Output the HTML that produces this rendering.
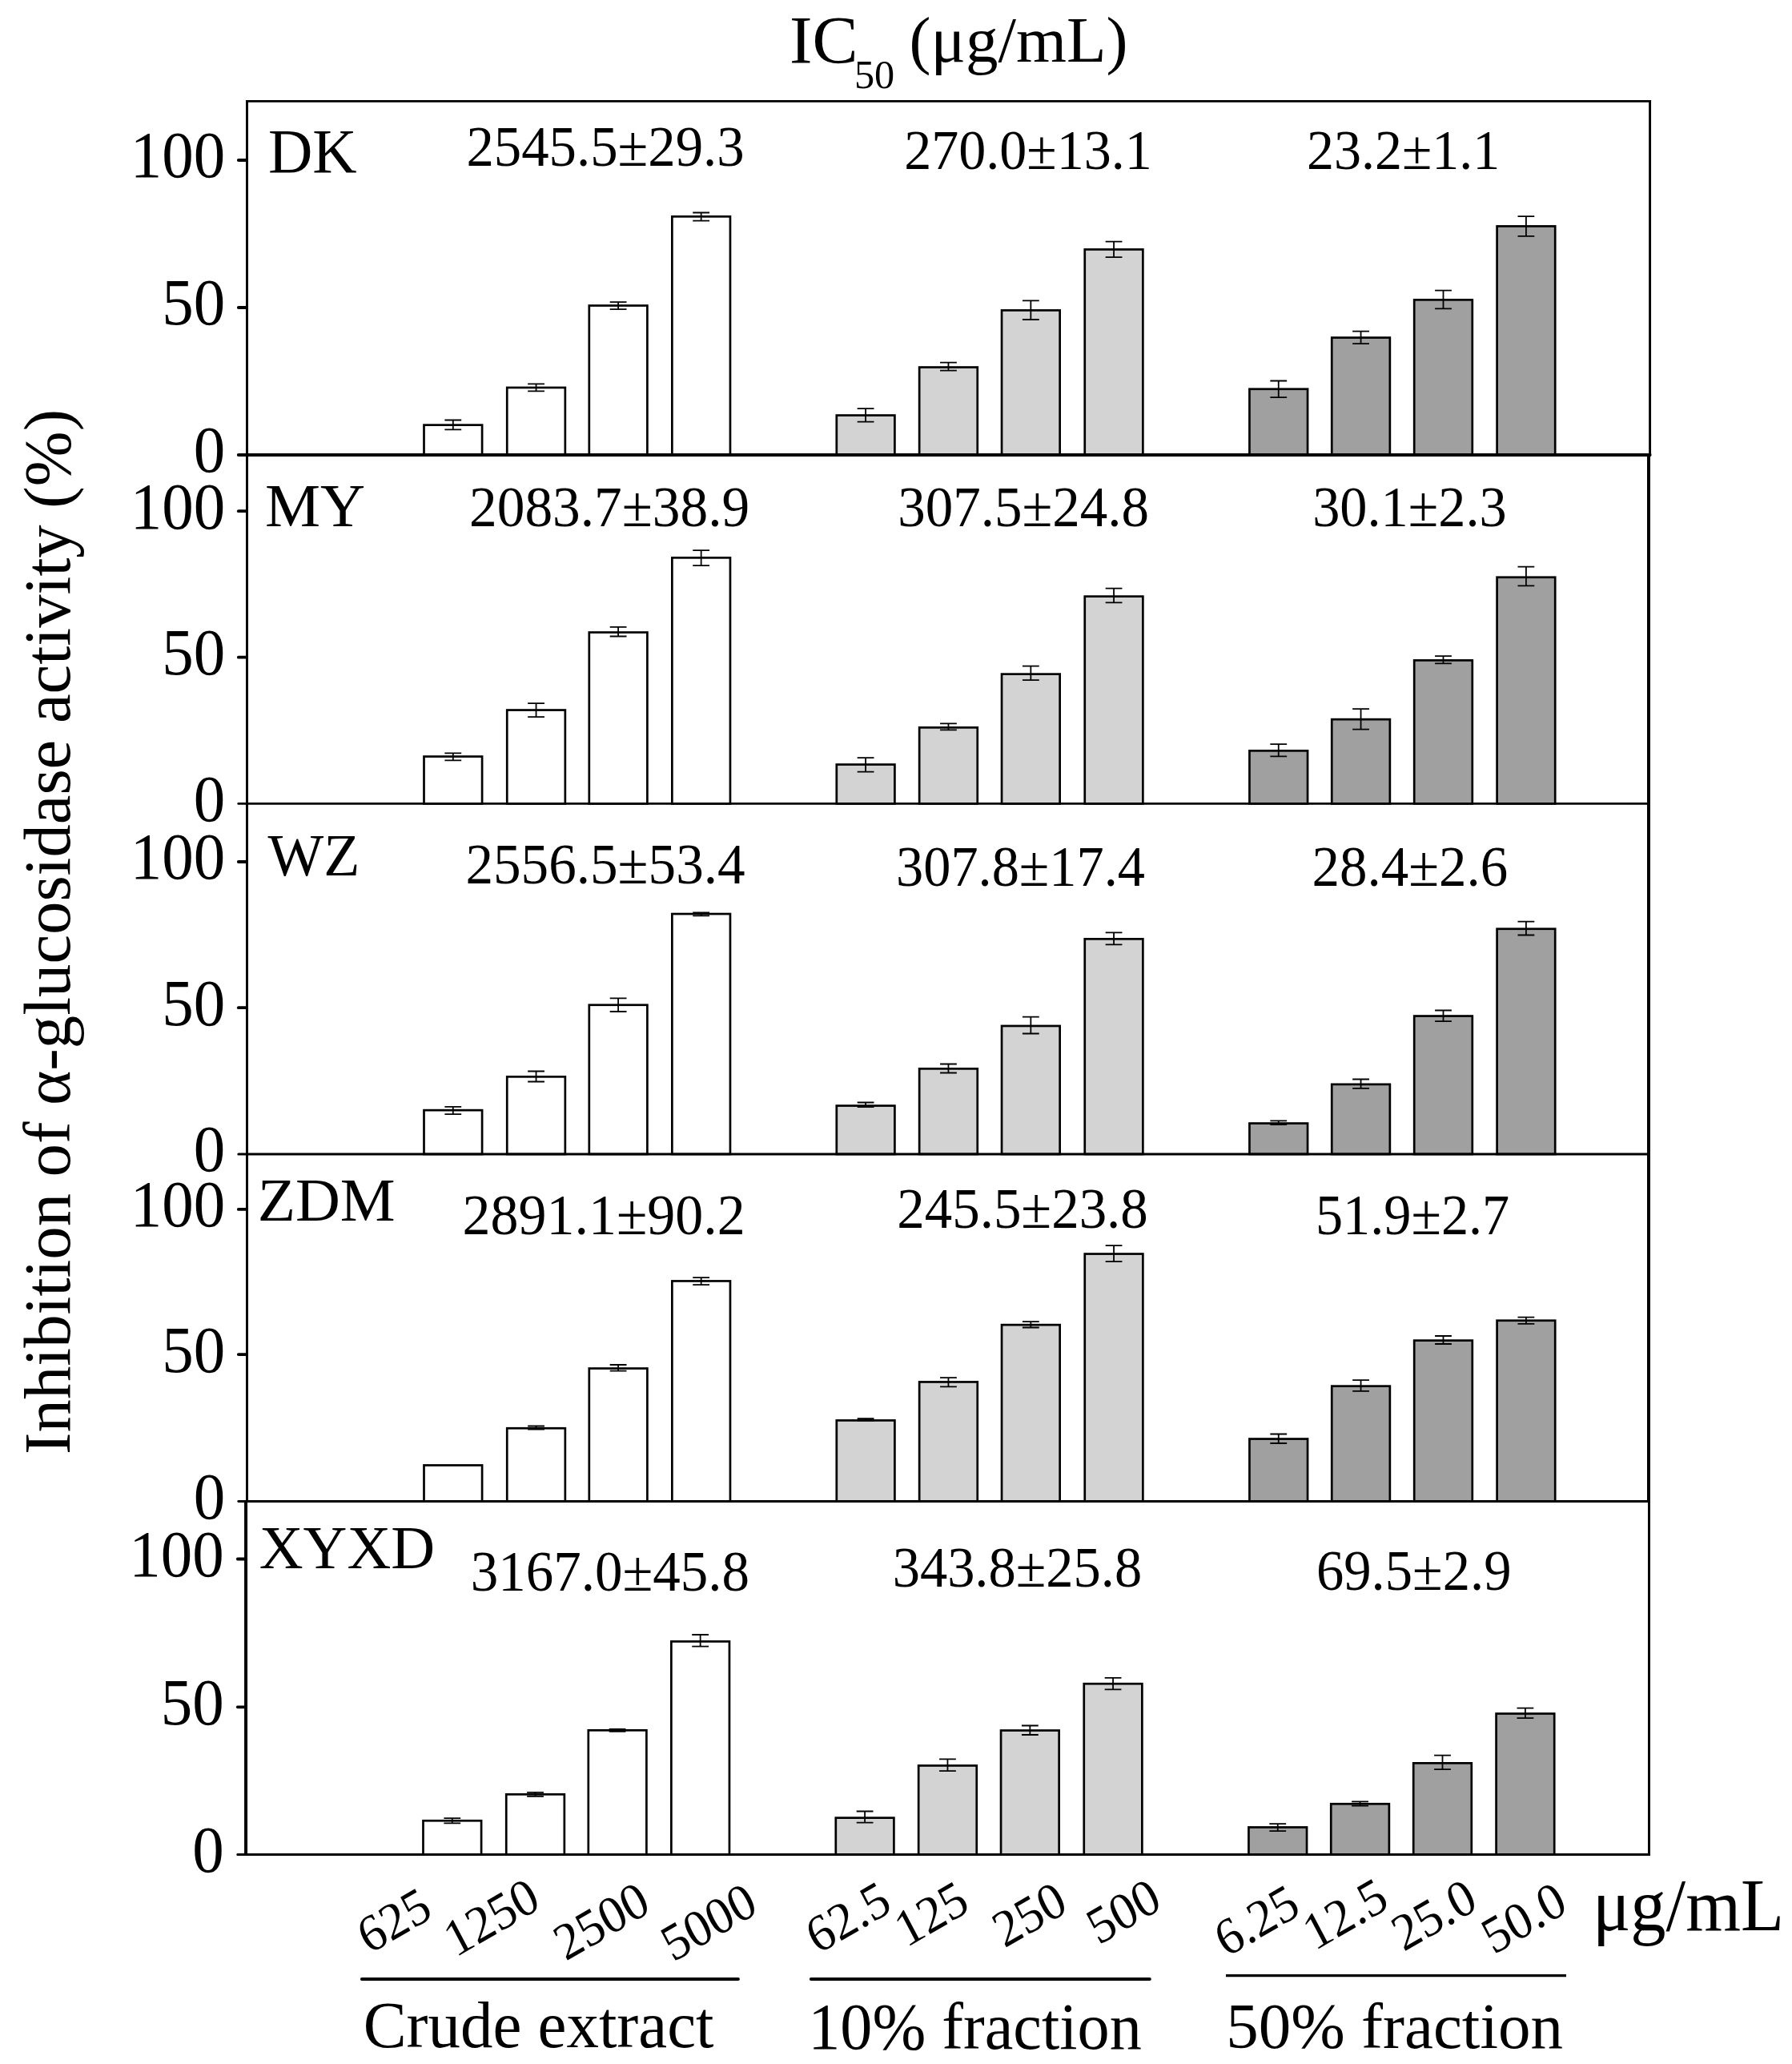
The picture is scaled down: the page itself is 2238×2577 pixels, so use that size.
<!DOCTYPE html>
<html lang="en"><head><meta charset="utf-8"><title>IC50 chart</title>
<style>html,body{margin:0;padding:0;background:#fff}svg{display:block}</style></head>
<body>
<svg width="2238" height="2577" viewBox="0 0 2238 2577" font-family="Liberation Serif, serif" fill="#000" style="font-kerning:none">
<rect width="2238" height="2577" fill="#fff"/>
<g stroke="#000" stroke-width="2.7">
<rect x="529.50" y="530.65" width="72.6" height="37.35" fill="#ffffff"/>
<rect x="633.25" y="483.95" width="72.6" height="84.05" fill="#ffffff"/>
<rect x="735.80" y="381.55" width="72.6" height="186.45" fill="#ffffff"/>
<rect x="839.35" y="270.35" width="72.6" height="297.65" fill="#ffffff"/>
<rect x="1044.80" y="518.55" width="72.6" height="49.45" fill="#d3d3d3"/>
<rect x="1148.15" y="458.55" width="72.6" height="109.45" fill="#d3d3d3"/>
<rect x="1251.05" y="387.45" width="72.6" height="180.55" fill="#d3d3d3"/>
<rect x="1354.75" y="311.45" width="72.6" height="256.55" fill="#d3d3d3"/>
<rect x="1560.45" y="485.75" width="72.6" height="82.25" fill="#a0a0a0"/>
<rect x="1663.25" y="421.55" width="72.6" height="146.45" fill="#a0a0a0"/>
<rect x="1766.20" y="374.35" width="72.6" height="193.65" fill="#a0a0a0"/>
<rect x="1869.60" y="282.45" width="72.6" height="285.55" fill="#a0a0a0"/>
</g>
<g stroke="#000" stroke-width="1.8" fill="none">
<path d="M555.40 524.50H576.20M555.40 536.40H576.20M565.80 524.50V536.40"/>
<path d="M659.15 479.40H679.95M659.15 488.30H679.95M669.55 479.40V488.30"/>
<path d="M761.70 377.20H782.50M761.70 386.20H782.50M772.10 377.20V386.20"/>
<path d="M865.25 265.50H886.05M865.25 275.60H886.05M875.65 265.50V275.60"/>
<path d="M1070.70 510.20H1091.50M1070.70 526.60H1091.50M1081.10 510.20V526.60"/>
<path d="M1174.05 452.70H1194.85M1174.05 462.70H1194.85M1184.45 452.70V462.70"/>
<path d="M1276.95 375.40H1297.75M1276.95 399.00H1297.75M1287.35 375.40V399.00"/>
<path d="M1380.65 301.70H1401.45M1380.65 321.20H1401.45M1391.05 301.70V321.20"/>
<path d="M1586.35 475.50H1607.15M1586.35 496.10H1607.15M1596.75 475.50V496.10"/>
<path d="M1689.15 413.70H1709.95M1689.15 429.10H1709.95M1699.55 413.70V429.10"/>
<path d="M1792.10 362.60H1812.90M1792.10 385.40H1812.90M1802.50 362.60V385.40"/>
<path d="M1895.50 270.20H1916.30M1895.50 294.80H1916.30M1905.90 270.20V294.80"/>
</g>
<g stroke="#000" stroke-width="2.7">
<rect x="529.50" y="944.55" width="72.6" height="58.85" fill="#ffffff"/>
<rect x="633.25" y="886.55" width="72.6" height="116.85" fill="#ffffff"/>
<rect x="735.80" y="789.55" width="72.6" height="213.85" fill="#ffffff"/>
<rect x="839.35" y="696.35" width="72.6" height="307.05" fill="#ffffff"/>
<rect x="1044.80" y="954.55" width="72.6" height="48.85" fill="#d3d3d3"/>
<rect x="1148.15" y="908.35" width="72.6" height="95.05" fill="#d3d3d3"/>
<rect x="1251.05" y="841.65" width="72.6" height="161.75" fill="#d3d3d3"/>
<rect x="1354.75" y="744.65" width="72.6" height="258.75" fill="#d3d3d3"/>
<rect x="1560.45" y="937.35" width="72.6" height="66.05" fill="#a0a0a0"/>
<rect x="1663.25" y="898.15" width="72.6" height="105.25" fill="#a0a0a0"/>
<rect x="1766.20" y="824.45" width="72.6" height="178.95" fill="#a0a0a0"/>
<rect x="1869.60" y="720.75" width="72.6" height="282.65" fill="#a0a0a0"/>
</g>
<g stroke="#000" stroke-width="1.8" fill="none">
<path d="M555.40 940.30H576.20M555.40 949.30H576.20M565.80 940.30V949.30"/>
<path d="M659.15 878.10H679.95M659.15 895.10H679.95M669.55 878.10V895.10"/>
<path d="M761.70 782.90H782.50M761.70 794.50H782.50M772.10 782.90V794.50"/>
<path d="M865.25 687.20H886.05M865.25 706.20H886.05M875.65 687.20V706.20"/>
<path d="M1070.70 946.20H1091.50M1070.70 963.60H1091.50M1081.10 946.20V963.60"/>
<path d="M1174.05 903.30H1194.85M1174.05 911.30H1194.85M1184.45 903.30V911.30"/>
<path d="M1276.95 831.70H1297.75M1276.95 849.10H1297.75M1287.35 831.70V849.10"/>
<path d="M1380.65 734.70H1401.45M1380.65 752.40H1401.45M1391.05 734.70V752.40"/>
<path d="M1586.35 929.20H1607.15M1586.35 944.40H1607.15M1596.75 929.20V944.40"/>
<path d="M1689.15 885.10H1709.95M1689.15 910.70H1709.95M1699.55 885.10V910.70"/>
<path d="M1792.10 819.10H1812.90M1792.10 828.30H1812.90M1802.50 819.10V828.30"/>
<path d="M1895.50 707.70H1916.30M1895.50 731.30H1916.30M1905.90 707.70V731.30"/>
</g>
<g stroke="#000" stroke-width="2.7">
<rect x="529.50" y="1386.15" width="72.6" height="54.85" fill="#ffffff"/>
<rect x="633.25" y="1344.35" width="72.6" height="96.65" fill="#ffffff"/>
<rect x="735.80" y="1254.75" width="72.6" height="186.25" fill="#ffffff"/>
<rect x="839.35" y="1141.05" width="72.6" height="299.95" fill="#ffffff"/>
<rect x="1044.80" y="1380.55" width="72.6" height="60.45" fill="#d3d3d3"/>
<rect x="1148.15" y="1334.35" width="72.6" height="106.65" fill="#d3d3d3"/>
<rect x="1251.05" y="1280.95" width="72.6" height="160.05" fill="#d3d3d3"/>
<rect x="1354.75" y="1172.35" width="72.6" height="268.65" fill="#d3d3d3"/>
<rect x="1560.45" y="1402.55" width="72.6" height="38.45" fill="#a0a0a0"/>
<rect x="1663.25" y="1353.85" width="72.6" height="87.15" fill="#a0a0a0"/>
<rect x="1766.20" y="1268.55" width="72.6" height="172.45" fill="#a0a0a0"/>
<rect x="1869.60" y="1159.75" width="72.6" height="281.25" fill="#a0a0a0"/>
</g>
<g stroke="#000" stroke-width="1.8" fill="none">
<path d="M555.40 1381.90H576.20M555.40 1391.10H576.20M565.80 1381.90V1391.10"/>
<path d="M659.15 1337.50H679.95M659.15 1350.50H679.95M669.55 1337.50V1350.50"/>
<path d="M761.70 1246.30H782.50M761.70 1263.00H782.50M772.10 1246.30V1263.00"/>
<path d="M865.25 1139.30H886.05M865.25 1143.40H886.05M875.65 1139.30V1143.40"/>
<path d="M1070.70 1376.50H1091.50M1070.70 1382.10H1091.50M1081.10 1376.50V1382.10"/>
<path d="M1174.05 1328.50H1194.85M1174.05 1339.50H1194.85M1184.45 1328.50V1339.50"/>
<path d="M1276.95 1269.70H1297.75M1276.95 1290.50H1297.75M1287.35 1269.70V1290.50"/>
<path d="M1380.65 1164.40H1401.45M1380.65 1179.30H1401.45M1391.05 1164.40V1179.30"/>
<path d="M1586.35 1399.30H1607.15M1586.35 1404.20H1607.15M1596.75 1399.30V1404.20"/>
<path d="M1689.15 1347.50H1709.95M1689.15 1358.80H1709.95M1699.55 1347.50V1358.80"/>
<path d="M1792.10 1261.50H1812.90M1792.10 1275.10H1812.90M1802.50 1261.50V1275.10"/>
<path d="M1895.50 1150.60H1916.30M1895.50 1167.50H1916.30M1905.90 1150.60V1167.50"/>
</g>
<g stroke="#000" stroke-width="2.7">
<rect x="529.50" y="1829.45" width="72.6" height="45.05" fill="#ffffff"/>
<rect x="633.25" y="1783.25" width="72.6" height="91.25" fill="#ffffff"/>
<rect x="735.80" y="1708.55" width="72.6" height="165.95" fill="#ffffff"/>
<rect x="839.35" y="1599.45" width="72.6" height="275.05" fill="#ffffff"/>
<rect x="1044.80" y="1773.45" width="72.6" height="101.05" fill="#d3d3d3"/>
<rect x="1148.15" y="1725.45" width="72.6" height="149.05" fill="#d3d3d3"/>
<rect x="1251.05" y="1654.15" width="72.6" height="220.35" fill="#d3d3d3"/>
<rect x="1354.75" y="1565.55" width="72.6" height="308.95" fill="#d3d3d3"/>
<rect x="1560.45" y="1796.55" width="72.6" height="77.95" fill="#a0a0a0"/>
<rect x="1663.25" y="1730.65" width="72.6" height="143.85" fill="#a0a0a0"/>
<rect x="1766.20" y="1673.65" width="72.6" height="200.85" fill="#a0a0a0"/>
<rect x="1869.60" y="1648.75" width="72.6" height="225.75" fill="#a0a0a0"/>
</g>
<g stroke="#000" stroke-width="1.8" fill="none">
<path d="M659.15 1780.50H679.95M659.15 1784.60H679.95M669.55 1780.50V1784.60"/>
<path d="M761.70 1704.00H782.50M761.70 1711.70H782.50M772.10 1704.00V1711.70"/>
<path d="M865.25 1595.10H886.05M865.25 1604.10H886.05M875.65 1595.10V1604.10"/>
<path d="M1070.70 1771.20H1091.50M1070.70 1773.50H1091.50M1081.10 1771.20V1773.50"/>
<path d="M1174.05 1720.10H1194.85M1174.05 1731.40H1194.85M1184.45 1720.10V1731.40"/>
<path d="M1276.95 1650.10H1297.75M1276.95 1657.50H1297.75M1287.35 1650.10V1657.50"/>
<path d="M1380.65 1555.10H1401.45M1380.65 1575.10H1401.45M1391.05 1555.10V1575.10"/>
<path d="M1586.35 1790.50H1607.15M1586.35 1802.00H1607.15M1596.75 1790.50V1802.00"/>
<path d="M1689.15 1723.20H1709.95M1689.15 1736.80H1709.95M1699.55 1723.20V1736.80"/>
<path d="M1792.10 1668.00H1812.90M1792.10 1678.00H1812.90M1802.50 1668.00V1678.00"/>
<path d="M1895.50 1644.70H1916.30M1895.50 1652.90H1916.30M1905.90 1644.70V1652.90"/>
</g>
<g stroke="#000" stroke-width="2.7">
<rect x="528.50" y="2273.25" width="72.6" height="42.25" fill="#ffffff"/>
<rect x="632.25" y="2240.35" width="72.6" height="75.15" fill="#ffffff"/>
<rect x="734.80" y="2160.35" width="72.6" height="155.15" fill="#ffffff"/>
<rect x="838.35" y="2049.45" width="72.6" height="266.05" fill="#ffffff"/>
<rect x="1043.80" y="2269.65" width="72.6" height="45.85" fill="#d3d3d3"/>
<rect x="1147.15" y="2204.45" width="72.6" height="111.05" fill="#d3d3d3"/>
<rect x="1250.05" y="2160.55" width="72.6" height="154.95" fill="#d3d3d3"/>
<rect x="1353.75" y="2102.25" width="72.6" height="213.25" fill="#d3d3d3"/>
<rect x="1559.45" y="2281.45" width="72.6" height="34.05" fill="#a0a0a0"/>
<rect x="1662.25" y="2252.25" width="72.6" height="63.25" fill="#a0a0a0"/>
<rect x="1765.20" y="2201.35" width="72.6" height="114.15" fill="#a0a0a0"/>
<rect x="1868.60" y="2139.55" width="72.6" height="175.95" fill="#a0a0a0"/>
</g>
<g stroke="#000" stroke-width="1.8" fill="none">
<path d="M554.40 2270.20H575.20M554.40 2276.40H575.20M564.80 2270.20V2276.40"/>
<path d="M658.15 2237.90H678.95M658.15 2242.80H678.95M668.55 2237.90V2242.80"/>
<path d="M760.70 2158.90H781.50M760.70 2161.90H781.50M771.10 2158.90V2161.90"/>
<path d="M864.25 2041.00H885.05M864.25 2055.60H885.05M874.65 2041.00V2055.60"/>
<path d="M1069.70 2261.50H1090.50M1069.70 2275.60H1090.50M1080.10 2261.50V2275.60"/>
<path d="M1173.05 2196.30H1193.85M1173.05 2211.20H1193.85M1183.45 2196.30V2211.20"/>
<path d="M1275.95 2154.50H1296.75M1275.95 2166.00H1296.75M1286.35 2154.50V2166.00"/>
<path d="M1379.65 2094.90H1400.45M1379.65 2109.30H1400.45M1390.05 2094.90V2109.30"/>
<path d="M1585.35 2277.20H1606.15M1585.35 2286.10H1606.15M1595.75 2277.20V2286.10"/>
<path d="M1688.15 2249.40H1708.95M1688.15 2254.60H1708.95M1698.55 2249.40V2254.60"/>
<path d="M1791.10 2191.70H1811.90M1791.10 2209.10H1811.90M1801.50 2191.70V2209.10"/>
<path d="M1894.50 2132.60H1915.30M1894.50 2145.20H1915.30M1904.90 2132.60V2145.20"/>
</g>
<g stroke="#000" fill="none" stroke-linecap="butt">
<path d="M308.50 125.00V569.50" stroke-width="3.0"/>
<path d="M2060.60 125.00V569.50" stroke-width="2.9"/>
<path d="M308.50 568.00V1004.90" stroke-width="3.0"/>
<path d="M2059.00 568.00V1004.90" stroke-width="4.0"/>
<path d="M308.50 1003.40V1442.50" stroke-width="3.0"/>
<path d="M2059.00 1003.40V1442.50" stroke-width="4.0"/>
<path d="M308.50 1441.00V1876.00" stroke-width="3.0"/>
<path d="M2059.00 1441.00V1876.00" stroke-width="4.0"/>
<path d="M307.05 1874.50V2317.00" stroke-width="4.0"/>
<path d="M2059.50 1874.50V2317.00" stroke-width="3.0"/>
<path d="M307.00 126.4H2062.05" stroke-width="2.8"/>
</g>
<g stroke="#000" fill="none" stroke-linecap="round">
<path d="M297.80 568.00H2060.60" stroke-width="4.0"/>
<path d="M297.80 200.00H307.80" stroke-width="3.8"/>
<path d="M297.80 384.00H307.80" stroke-width="3.8"/>
<path d="M297.80 1003.40H2059.00" stroke-width="2.9"/>
<path d="M297.80 638.20H307.80" stroke-width="3.8"/>
<path d="M297.80 820.70H307.80" stroke-width="3.8"/>
<path d="M297.80 1441.00H2059.00" stroke-width="3.0"/>
<path d="M297.80 1076.00H307.80" stroke-width="3.8"/>
<path d="M297.80 1258.20H307.80" stroke-width="3.8"/>
<path d="M297.80 1874.50H2059.00" stroke-width="2.9"/>
<path d="M297.80 1509.90H307.80" stroke-width="3.8"/>
<path d="M297.80 1691.10H307.80" stroke-width="3.8"/>
<path d="M296.80 2315.50H2059.50" stroke-width="3.0"/>
<path d="M296.80 1946.50H306.35" stroke-width="3.8"/>
<path d="M296.80 2131.30H306.35" stroke-width="3.8"/>
</g>
<text transform="translate(162.86 221.48) scale(1 1.0350)" font-size="79.00" text-anchor="start">100</text>
<text transform="translate(202.36 405.48) scale(1 1.0350)" font-size="79.00" text-anchor="start">50</text>
<text transform="translate(241.86 589.48) scale(1 1.0350)" font-size="79.00" text-anchor="start">0</text>
<text transform="translate(162.86 659.68) scale(1 1.0350)" font-size="79.00" text-anchor="start">100</text>
<text transform="translate(202.36 842.18) scale(1 1.0350)" font-size="79.00" text-anchor="start">50</text>
<text transform="translate(241.86 1024.88) scale(1 1.0350)" font-size="79.00" text-anchor="start">0</text>
<text transform="translate(162.86 1097.48) scale(1 1.0350)" font-size="79.00" text-anchor="start">100</text>
<text transform="translate(202.36 1279.68) scale(1 1.0350)" font-size="79.00" text-anchor="start">50</text>
<text transform="translate(241.86 1462.48) scale(1 1.0350)" font-size="79.00" text-anchor="start">0</text>
<text transform="translate(162.86 1531.38) scale(1 1.0350)" font-size="79.00" text-anchor="start">100</text>
<text transform="translate(202.36 1712.58) scale(1 1.0350)" font-size="79.00" text-anchor="start">50</text>
<text transform="translate(241.86 1895.98) scale(1 1.0350)" font-size="79.00" text-anchor="start">0</text>
<text transform="translate(161.36 1967.98) scale(1 1.0350)" font-size="79.00" text-anchor="start">100</text>
<text transform="translate(200.86 2152.78) scale(1 1.0350)" font-size="79.00" text-anchor="start">50</text>
<text transform="translate(240.36 2336.98) scale(1 1.0350)" font-size="79.00" text-anchor="start">0</text>
<text transform="translate(334.89 215.01) scale(1 1.0148)" font-size="76.73" text-anchor="start">DK</text>
<text transform="translate(331.07 656.60) scale(1 0.9834)" font-size="77.63" text-anchor="start">MY</text>
<text transform="translate(334.40 1093.08) scale(1 1.0094)" font-size="73.93" text-anchor="start">WZ</text>
<text transform="translate(321.72 1524.01) scale(1 0.9826)" font-size="77.39" text-anchor="start">ZDM</text>
<text transform="translate(323.69 1958.21) scale(1 0.9930)" font-size="75.97" text-anchor="start">XYXD</text>
<text transform="translate(582.48 207.43) scale(1 1.0400)" font-size="68.77" text-anchor="start">2545.5±29.3</text>
<text transform="translate(1129.21 210.74) scale(1 1.0400)" font-size="68.06" text-anchor="start">270.0±13.1</text>
<text transform="translate(1631.91 211.14) scale(1 1.0400)" font-size="67.99" text-anchor="start">23.2±1.1</text>
<text transform="translate(586.05 656.52) scale(1 1.0400)" font-size="69.37" text-anchor="start">2083.7±38.9</text>
<text transform="translate(1121.32 656.72) scale(1 1.0400)" font-size="68.98" text-anchor="start">307.5±24.8</text>
<text transform="translate(1639.15 656.73) scale(1 1.0400)" font-size="68.33" text-anchor="start">30.1±2.3</text>
<text transform="translate(581.46 1103.12) scale(1 1.0400)" font-size="69.16" text-anchor="start">2556.5±53.4</text>
<text transform="translate(1119.05 1106.13) scale(1 1.0400)" font-size="68.35" text-anchor="start">307.8±17.4</text>
<text transform="translate(1638.57 1106.12) scale(1 1.0400)" font-size="68.96" text-anchor="start">28.4±2.6</text>
<text transform="translate(577.53 1540.91) scale(1 1.0400)" font-size="69.96" text-anchor="start">2891.1±90.2</text>
<text transform="translate(1120.27 1532.52) scale(1 1.0400)" font-size="68.93" text-anchor="start">245.5±23.8</text>
<text transform="translate(1642.97 1541.43) scale(1 1.0400)" font-size="68.28" text-anchor="start">51.9±2.7</text>
<text transform="translate(587.72 1985.62) scale(1 1.0400)" font-size="69.00" text-anchor="start">3167.0±45.8</text>
<text transform="translate(1114.65 1981.43) scale(1 1.0400)" font-size="68.49" text-anchor="start">343.8±25.8</text>
<text transform="translate(1643.98 1985.03) scale(1 1.0400)" font-size="68.61" text-anchor="start">69.5±2.9</text>
<text x="985.93" y="78.54" font-size="85.52">IC<tspan x="1066.91" y="109.61" font-size="50.28">50</tspan><tspan x="1115.31" y="77.28" font-size="81.01"> (μg/mL)</tspan></text>
<text transform="translate(453.66 2556.08) scale(1 1.0118)" font-size="80.89" text-anchor="start">Crude extract</text>
<text transform="translate(1009.18 2557.78) scale(1 1.0179)" font-size="80.24" text-anchor="start">10% fraction</text>
<text x="1531.14" y="2556.79" font-size="81.05" text-anchor="start">50% fraction</text>
<text transform="translate(1988.92 2409.95) scale(1 1.0432)" font-size="88.52" text-anchor="start">μg/mL</text>
<g stroke="#000" stroke-width="4" stroke-linecap="round">
<path d="M451.9 2470.9H921.9"/>
<path d="M1012.9 2470.9H1435.8"/>
</g>
<path d="M1531 2466.6H1956" stroke="#000" stroke-width="3.1"/>
<text transform="translate(461.07 2440.18) scale(0.953 1) rotate(-29)" font-size="65.2">625</text>
<text transform="translate(569.10 2444.23) scale(0.953 1) rotate(-29)" font-size="65.2">1250</text>
<text transform="translate(706.58 2448.97) scale(0.953 1) rotate(-29)" font-size="65.2">2500</text>
<text transform="translate(840.46 2450.27) scale(0.953 1) rotate(-29)" font-size="65.2">5000</text>
<text transform="translate(1021.28 2440.18) scale(0.953 1) rotate(-29)" font-size="65.2">62.5</text>
<text transform="translate(1132.01 2431.96) scale(0.953 1) rotate(-29)" font-size="65.2">125</text>
<text transform="translate(1254.62 2432.87) scale(0.953 1) rotate(-29)" font-size="65.2">250</text>
<text transform="translate(1372.10 2428.92) scale(0.953 1) rotate(-29)" font-size="65.2">500</text>
<text transform="translate(1531.58 2444.23) scale(0.953 1) rotate(-29)" font-size="65.2">6.25</text>
<text transform="translate(1642.12 2436.07) scale(0.953 1) rotate(-29)" font-size="65.2">12.5</text>
<text transform="translate(1753.02 2437.32) scale(0.953 1) rotate(-29)" font-size="65.2">25.0</text>
<text transform="translate(1865.31 2441.07) scale(0.953 1) rotate(-29)" font-size="65.2">50.0</text>
<text transform="translate(86.8 1815.89) rotate(-90)" font-size="82.61">Inhibition of α-glucosidase activity (%)</text>
</svg>
</body></html>
